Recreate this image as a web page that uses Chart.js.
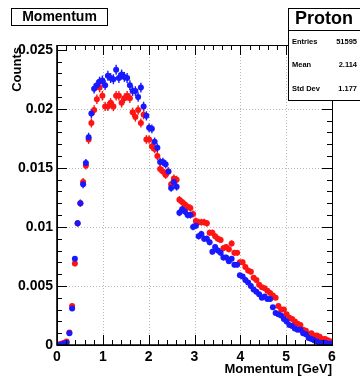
<!DOCTYPE html>
<html lang="en">
<head>
  <meta charset="UTF-8" />
  <title>Momentum</title>
  <script src="https://cdn.jsdelivr.net/npm/chart.js"></script>
  <style>
    html, body { margin: 0; padding: 0; background: #ffffff; }
    #wrap { width: 360px; height: 376px; }
  </style>
</head>
<body>
<div id="wrap"><canvas id="momChart" width="360" height="376"></canvas></div>
<script>
  // histogram: 100 bins from 0 to 6 GeV
  const binWidth = 0.06;

  const blueCounts = [
    0.0000, 0.00005, 0.0001, 0.0002, 0.0010, 0.0031, 0.0073, 0.0103, 0.0120, 0.0136,
    0.0154, 0.0176, 0.0196, 0.0217, 0.0220, 0.0223, 0.0224, 0.0220, 0.0228, 0.0226,
    0.0225, 0.0233, 0.0226, 0.0229, 0.0227, 0.0226, 0.0220, 0.0215, 0.0215, 0.0210,
    0.0218, 0.0202, 0.0194, 0.0184, 0.0183, 0.0172, 0.0167, 0.0155, 0.0155, 0.0153,
    0.0147, 0.0133, 0.0138, 0.0134, 0.0112, 0.0115, 0.0113, 0.0110, 0.0110, 0.0100,
    0.0101, 0.0092, 0.0094, 0.0090, 0.0090, 0.0087, 0.0079, 0.0083, 0.0080, 0.0078,
    0.0074, 0.0074, 0.0071, 0.0073, 0.0068, 0.0068, 0.0059, 0.0058, 0.0055, 0.0053,
    0.0050, 0.0047, 0.0045, 0.0043, 0.0040, 0.0041, 0.0039, 0.0039, 0.0032, 0.0027,
    0.0026, 0.0025, 0.0022, 0.0020, 0.0017, 0.0016, 0.0014, 0.0013, 0.0013, 0.0010,
    0.0009, 0.0006, 0.0005, 0.0004, 0.0003, 0.0002, 0.0002, 0.0002, 0.0001, 0.0001
  ];

  const redCounts = [
    0.00005, 0.0001, 0.0002, 0.0003, 0.00105, 0.0033, 0.0069, 0.0103, 0.0120, 0.0138,
    0.0152, 0.0174, 0.0188, 0.0199, 0.0208, 0.0218, 0.0211, 0.0202, 0.0202, 0.0205,
    0.0202, 0.0211, 0.0211, 0.0205, 0.0209, 0.0211, 0.0209, 0.0197, 0.0193, 0.0199,
    0.0188, 0.0195, 0.0174, 0.0174, 0.0168, 0.0166, 0.0160, 0.0149, 0.0147, 0.0144,
    0.0147, 0.0136, 0.0141, 0.0140, 0.0123, 0.0121, 0.0119, 0.0117, 0.0116, 0.0111,
    0.0105, 0.0104, 0.0104, 0.0104, 0.0103, 0.0095, 0.0095, 0.0092, 0.0090, 0.0089,
    0.0082, 0.0083, 0.0081, 0.0086, 0.0078, 0.0078, 0.0070, 0.0070, 0.0066, 0.0063,
    0.0062, 0.0057, 0.0055, 0.0051, 0.0049, 0.0048, 0.0046, 0.0044, 0.0042, 0.0040,
    0.0033, 0.0030, 0.0030, 0.0026, 0.0023, 0.0022, 0.0020, 0.0018, 0.0017, 0.0013,
    0.0012, 0.0009, 0.0010, 0.0008, 0.0008, 0.0007, 0.0005, 0.0005, 0.0004, 0.0003
  ];

  const xTicks = [0, 1, 2, 3, 4, 5, 6];
  const yTicks = [0, 0.005, 0.01, 0.015, 0.02, 0.025];
  const yTickLabels = ['0', '0.005', '0.01', '0.015', '0.02', '0.025'];

  const statLabels = ['Entries', 'Mean', 'Std Dev'];
  const statValues = ['51595', '2.114', '1.177'];

  const FONT = '"Liberation Sans", Arial, sans-serif';

  function toPoints(counts) {
    return counts.map((v, i) => ({ x: (i + 0.5) * binWidth, y: v }));
  }

  // vertical error bars under the markers
  const errorBars = {
    id: 'errorBars',
    beforeDatasetsDraw(chart) {
      const ctx = chart.ctx;
      const ys = chart.scales.y;
      ctx.save();
      chart.data.datasets.forEach((ds, di) => {
        const meta = chart.getDatasetMeta(di);
        ctx.strokeStyle = ds.backgroundColor;
        ctx.lineWidth = 1.4;
        meta.data.forEach((pt, i) => {
          const v = ds.data[i].y;
          const err = 0.0028 * Math.sqrt(v);
          ctx.beginPath();
          ctx.moveTo(pt.x, ys.getPixelForValue(v + err));
          ctx.lineTo(pt.x, ys.getPixelForValue(v - err));
          ctx.stroke();
        });
      });
      ctx.restore();
    }
  };

  // ROOT style frame, grid, ticks, titles and boxes
  const rootFrame = {
    id: 'rootFrame',
    beforeDatasetsDraw(chart) {
      const { ctx, chartArea: a } = chart;
      const xs = chart.scales.x, ys = chart.scales.y;
      ctx.save();
      ctx.strokeStyle = 'rgba(140,140,140,0.6)';
      ctx.lineWidth = 1;
      ctx.setLineDash([1, 2]);
      xTicks.slice(1, -1).forEach(t => {
        const px = Math.round(xs.getPixelForValue(t)) + 0.5;
        ctx.beginPath(); ctx.moveTo(px, a.top); ctx.lineTo(px, a.bottom); ctx.stroke();
      });
      yTicks.slice(1, -1).forEach(t => {
        const py = Math.round(ys.getPixelForValue(t)) + 0.5;
        ctx.beginPath(); ctx.moveTo(a.left, py); ctx.lineTo(a.right, py); ctx.stroke();
      });
      ctx.restore();
    },
    afterDraw(chart) {
      const { ctx, chartArea: a } = chart;
      const xs = chart.scales.x, ys = chart.scales.y;
      ctx.save();
      ctx.strokeStyle = '#000';
      ctx.lineWidth = 1;

      // x ticks (0.2 minor, 1 major)
      for (let k = 0; k <= 30; k++) {
        const px = Math.round(xs.getPixelForValue(k * 0.2)) + 0.5;
        const len = k % 5 === 0 ? 10 : 5;
        ctx.beginPath();
        ctx.moveTo(px, a.bottom); ctx.lineTo(px, a.bottom - len);
        ctx.moveTo(px, a.top); ctx.lineTo(px, a.top + len);
        ctx.stroke();
      }
      // y ticks (0.001 minor, 0.005 major)
      for (let k = 0; k <= 25; k++) {
        const py = Math.round(ys.getPixelForValue(k * 0.001)) + 0.5;
        const len = k % 5 === 0 ? 10 : 5;
        ctx.beginPath();
        ctx.moveTo(a.left, py); ctx.lineTo(a.left + len, py);
        ctx.moveTo(a.right, py); ctx.lineTo(a.right - len, py);
        ctx.stroke();
      }

      // frame
      ctx.strokeRect(Math.round(a.left) + 0.5, Math.round(a.top) + 0.5,
        Math.round(a.right - a.left), Math.round(a.bottom - a.top));
      ctx.lineWidth = 1.6;
      ctx.beginPath();
      ctx.moveTo(a.left, a.top); ctx.lineTo(a.left, a.bottom); ctx.lineTo(a.right, a.bottom);
      ctx.stroke();

      // tick labels
      ctx.fillStyle = '#000';
      ctx.font = 'bold 14px ' + FONT;
      ctx.textAlign = 'right';
      ctx.textBaseline = 'middle';
      yTicks.forEach((t, i) => {
        ctx.fillText(yTickLabels[i], a.left - 4, ys.getPixelForValue(t));
      });
      ctx.textAlign = 'center';
      ctx.textBaseline = 'top';
      xTicks.forEach(t => {
        ctx.fillText(String(t), xs.getPixelForValue(t), a.bottom + 5);
      });

      // axis titles
      ctx.font = 'bold 13px ' + FONT;
      ctx.textAlign = 'right';
      ctx.textBaseline = 'middle';
      ctx.fillText('Momentum [GeV]', a.right, 369);
      ctx.save();
      ctx.translate(17, a.top + 2);
      ctx.rotate(-Math.PI / 2);
      ctx.fillText('Counts', 0, 0);
      ctx.restore();

      // title box
      ctx.lineWidth = 1;
      ctx.fillStyle = '#fff';
      ctx.fillRect(11.5, 8.5, 96, 17);
      ctx.strokeRect(11.5, 8.5, 96, 17);
      ctx.fillStyle = '#000';
      ctx.font = 'bold 14px ' + FONT;
      ctx.textAlign = 'center';
      ctx.fillText('Momentum', 59.5, 17.5);

      // stats box
      ctx.fillStyle = '#fff';
      ctx.fillRect(288.5, 8.5, 80, 92);
      ctx.strokeRect(288.5, 8.5, 80, 92);
      ctx.beginPath(); ctx.moveTo(288.5, 30.5); ctx.lineTo(360, 30.5); ctx.stroke();
      ctx.fillStyle = '#000';
      ctx.font = 'bold 18px ' + FONT;
      ctx.fillText('Proton', 324, 19.5);
      ctx.font = 'bold 7.5px ' + FONT;
      statLabels.forEach((lab, i) => {
        const y = 42 + i * 23.3;
        ctx.textAlign = 'left';
        ctx.fillText(lab, 292, y);
        ctx.textAlign = 'right';
        ctx.fillText(statValues[i], 357, y);
      });
      ctx.restore();
    }
  };

  new Chart(document.getElementById('momChart'), {
    type: 'scatter',
    data: {
      datasets: [
        {
          label: 'blue',
          data: toPoints(blueCounts),
          backgroundColor: 'rgb(25,25,255)',
          pointRadius: 3,
          pointBorderWidth: 0
        },
        {
          label: 'red',
          data: toPoints(redCounts),
          backgroundColor: 'rgb(255,20,20)',
          pointRadius: 3,
          pointBorderWidth: 0
        }
      ]
    },
    options: {
      responsive: false,
      animation: false,
      layout: { padding: { left: 57, top: 45, right: 28, bottom: 31 } },
      scales: {
        x: { type: 'linear', min: 0, max: 6, display: false },
        y: { type: 'linear', min: 0, max: 0.0254, display: false }
      },
      plugins: { legend: { display: false }, tooltip: { enabled: false } }
    },
    plugins: [errorBars, rootFrame]
  });
</script>
</body>
</html>
